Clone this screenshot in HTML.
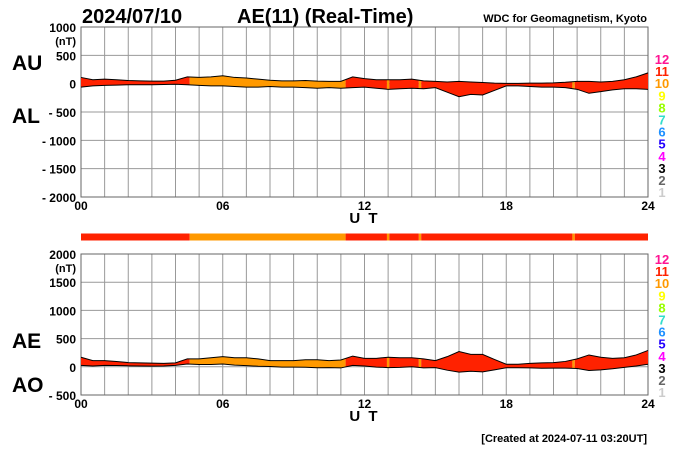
<!DOCTYPE html>
<html><head><meta charset="utf-8"><style>
body{margin:0;background:#fff;}
svg{display:block;font-family:"Liberation Sans",sans-serif;font-weight:bold;}
</style></head><body>
<svg id="c" width="700" height="450" viewBox="0 0 700 450">
<text x="82" y="23" font-size="20">2024/07/10</text>
<text x="237" y="23" font-size="20">AE(11) (Real-Time)</text>
<text x="647" y="22" font-size="11" text-anchor="end">WDC for Geomagnetism, Kyoto</text>
<text x="12" y="70" font-size="21">AU</text>
<text x="12" y="123" font-size="21">AL</text>
<text x="12" y="348" font-size="21">AE</text>
<text x="12" y="392" font-size="21">AO</text>
<text x="647" y="442" font-size="11" text-anchor="end">[Created at 2024-07-11 03:20UT]</text>
<g id="top"></g><g id="bot"></g><g id="bar"></g>
</svg>
<script>
const hours = Array.from({length:49},(_, i)=>i*0.5);
const auValues = [110,70,80,70,55,50,45,45,60,120,110,120,140,110,100,80,60,50,50,55,45,40,40,120,90,70,70,70,80,50,40,30,40,30,20,10,5,5,10,10,15,25,40,40,30,40,70,120,190];
const alValues = [-60,-40,-30,-25,-20,-20,-20,-15,-10,-20,-30,-40,-40,-50,-60,-60,-50,-60,-60,-70,-80,-70,-80,-70,-60,-80,-100,-90,-80,-90,-70,-150,-230,-190,-200,-120,-40,-40,-50,-60,-60,-70,-100,-170,-140,-110,-90,-90,-100];
const segStart = [0,4.6,11.2,12.95,13.05,14.3,14.4,20.8,20.9];
const segEnd   = [4.6,11.2,12.95,13.05,14.3,14.4,20.8,20.9,24];
const segLevel = [11,10,11,10,11,10,11,10,11];
const topTicks = [1000,500,0,-500,-1000,-1500,-2000];
const botTicks = [2000,1500,1000,500,0,-500];
const xTicks = ['00','06','12','18','24'];
const legendLabels = ['12','11','10','9','8','7','6','5','4','3','2','1'];
const levelColors = {12:'#ff1493',11:'#ff2200',10:'#ff9900',9:'#ffff00',8:'#99ff00',7:'#33ddcc',6:'#1e90ff',5:'#2200ff',4:'#ff00ff',3:'#000000',2:'#666666',1:'#cccccc'};

const NS='http://www.w3.org/2000/svg';
const X0=81,X1=648;
const x=h=>X0+(X1-X0)*h/24;
function mk(tag,attrs,parent){const e=document.createElementNS(NS,tag);for(const k in attrs)e.setAttribute(k,attrs[k]);parent.appendChild(e);return e;}
let clipId=0;
function panel(g,yTop,yBot,vMax,vMin,upper,lower,name){
  const y=v=>yTop+(vMax-v)*(yBot-yTop)/(vMax-vMin);
  for(let h=0;h<=24;h++){const l=mk('line',{x1:x(h),x2:x(h),y1:yTop,y2:yBot,stroke:'#999','stroke-width':1},g);
    
    }
  const ticks = name==='top'?topTicks:botTicks;
  ticks.forEach(v=>{const l=mk('line',{x1:X0,x2:X1,y1:y(v),y2:y(v),stroke:'#999','stroke-width':1},g);
    
    
    const t=mk('text',{x:76,y:y(v)+5,'font-size':12,'text-anchor':'end'},g);
    t.textContent=v<0?'- '+(-v):String(v);
    
    });
  const nt=mk('text',{x:76,y:y(ticks[0])+18,'font-size':11,'text-anchor':'end'},g);nt.textContent='(nT)';
  
  
  mk('rect',{x:X0,y:yTop,width:X1-X0,height:yBot-yTop,fill:'none',stroke:'#666'},g);
  xTicks.forEach((s,i)=>{const t=mk('text',{x:x(i*6),y:yBot+13,'font-size':12,'text-anchor':'middle'},g);t.textContent=s;
    
    });
  const ut=mk('text',{x:x(12),y:yBot+26,'font-size':15,'text-anchor':'middle','letter-spacing':'2'},g);ut.textContent='U T';
  
  
  const up=hours.map((h,i)=>x(h)+','+y(upper[i]));
  const lo=hours.map((h,i)=>x(h)+','+y(lower[i])).reverse();
  const poly=up.concat(lo).join(' ');
  segStart.forEach((s,i)=>{const id='cl'+(clipId++);
    const cp=mk('clipPath',{id:id},g);mk('rect',{x:x(s),y:yTop,width:x(segEnd[i])-x(s),height:yBot-yTop},cp);
    const p=mk('polygon',{points:poly,fill:levelColors[segLevel[i]],'clip-path':'url(#'+id+')'},g);
    
    });
  const l1=mk('polyline',{points:up.join(' '),fill:'none',stroke:'#000','stroke-width':1},g);
  
  
  const l2=mk('polyline',{points:lo.join(' '),fill:'none',stroke:'#000','stroke-width':1},g);
  
  
  legendLabels.forEach((s,i)=>{const t=mk('text',{x:662,y:(name==='top'?64:264)+i*12.1,'font-size':13,'text-anchor':'middle',fill:levelColors[+s]},g);t.textContent=s;
    
    });
}
panel(document.getElementById('top'),27,197,1000,-2000,auValues,alValues,'top');
const aeValues=auValues.map((u,i)=>u-alValues[i]);
const aoValues=auValues.map((u,i)=>(u+alValues[i])/2);
panel(document.getElementById('bot'),254,395,2000,-500,aeValues,aoValues,'bot');
const bar=document.getElementById('bar');
segStart.forEach((s,i)=>{const r=mk('rect',{x:x(s),y:233.5,width:x(segEnd[i])-x(s),height:7,fill:levelColors[segLevel[i]]},bar);
  
  });
</script>
</body></html>
